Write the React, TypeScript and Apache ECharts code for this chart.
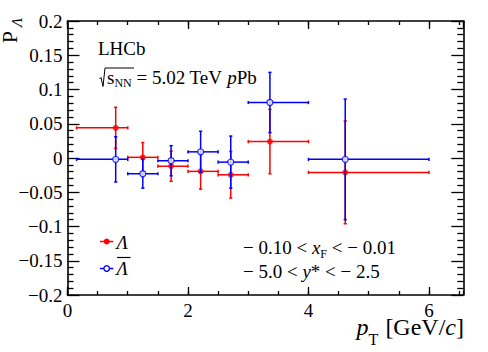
import React, { useEffect, useRef } from 'react';
import * as echarts from 'echarts';

// pT bins [GeV/c]
const binLow = [0.15, 1.0, 1.5, 2.0, 2.5, 3.0, 4.0];
const binHigh = [1.0, 1.5, 2.0, 2.5, 3.0, 4.0, 6.0];
const ptMean = [0.8, 1.25, 1.72, 2.21, 2.71, 3.36, 4.61];
// Lambda polarization
const lambdaP = [0.044, 0.001, -0.012, -0.0195, -0.0245, 0.024, -0.021];
const lambdaErr = [0.03, 0.0215, 0.022, 0.026, 0.034, 0.047, 0.075];
// anti-Lambda polarization
const antiP = [-0.002, -0.023, -0.004, 0.009, -0.006, 0.081, -0.002];
const antiErr = [0.033, 0.021, 0.022, 0.03, 0.038, 0.044, 0.088];

const xTickLabels = ['0', '2', '4', '6'];
const yTickLabels = ['\u22120.2', '\u22120.15', '\u22120.1', '\u22120.05', '0', '0.05', '0.1', '0.15', '0.2'];

const X_MIN = 0;
const X_MAX = 6.57;
const Y_MIN = -0.2;
const Y_MAX = 0.2;

const SERIF = 'Liberation Serif';
const RED = '#ff0000';
const BLUE = '#0000ff';

const makeErr = (color: string) => (params: any, api: any) => {
  const x = api.value(0);
  const y = api.value(1);
  const lo = api.value(2);
  const hi = api.value(3);
  const e = api.value(4);
  const a = api.coord([lo, y]);
  const b = api.coord([hi, y]);
  const t = api.coord([x, y + e]);
  const d = api.coord([x, y - e]);
  const c = 1.6;
  const style = { stroke: color, lineWidth: 1.5 };
  const seg = (x1: number, y1: number, x2: number, y2: number) => ({
    type: 'line',
    shape: { x1, y1, x2, y2 },
    style,
  });
  return {
    type: 'group',
    children: [
      seg(a[0], a[1], b[0], b[1]),
      seg(t[0], t[1], d[0], d[1]),
      seg(a[0], a[1] - c, a[0], a[1] + c),
      seg(b[0], b[1] - c, b[0], b[1] + c),
      seg(t[0] - c, t[1], t[0] + c, t[1]),
      seg(d[0] - c, d[1], d[0] + c, d[1]),
    ],
  };
};

// main tokens centred in a line of height L; subscript tokens pushed to its bottom
const richBase = (size: number, subSize: number, drop: number) => {
  const L = 2 * drop + subSize;
  return {
    n: { fontSize: size, fontFamily: SERIF, lineHeight: L, fill: '#000' },
    i: { fontSize: size, fontFamily: SERIF, fontStyle: 'italic', lineHeight: L, fill: '#000' },
    s: { fontSize: subSize, fontFamily: SERIF, lineHeight: subSize, verticalAlign: 'bottom', fill: '#000' },
    si: { fontSize: subSize, fontFamily: SERIF, fontStyle: 'italic', lineHeight: subSize, verticalAlign: 'bottom', fill: '#000' },
  };
};

const yLabel = (v: number) => {
  const k = Math.round((v - Y_MIN) / 0.05);
  if (Math.abs(v - (Y_MIN + k * 0.05)) < 1e-6 && k >= 0 && k < yTickLabels.length) return yTickLabels[k];
  return '';
};
const xLabel = (v: number) => {
  const k = Math.round(v);
  if (Math.abs(v - k) < 1e-6 && k % 2 === 0 && k >= 0 && k <= 6) return xTickLabels[k / 2];
  return '';
};

const axisLineStyle = { color: '#000', width: 1.6 };
const tickStyle = { color: '#000', width: 1.3 };

const txt = (x: number, y: number, text: string, size: number, opts: any = {}) => ({
  type: 'text',
  x,
  y,
  rotation: opts.rotation || 0,
  style: {
    text,
    fontSize: size,
    fontFamily: SERIF,
    fontStyle: opts.italic ? 'italic' : 'normal',
    lineHeight: opts.lineHeight || size,
    fill: '#000',
    align: opts.align || 'left',
    verticalAlign: 'middle',
  },
});

export default function App() {
  const ref = useRef<HTMLDivElement>(null);
  useEffect(() => {
    if (!ref.current) return;
    const chart = echarts.init(ref.current, null, { renderer: 'svg' });
    const xBase = { type: 'value', min: X_MIN, max: X_MAX, splitLine: { show: false } };
    const yBase = { type: 'value', min: Y_MIN, max: Y_MAX, interval: 0.05, splitLine: { show: false } };
    const option: any = {
      animation: false,
      backgroundColor: '#fff',
      grid: { left: 67.5, right: 24.7, top: 21, bottom: 57, containLabel: false, outerBoundsMode: 'none' },
      xAxis: [
        {
          ...xBase,
          position: 'bottom',
          interval: 2,
          axisLine: { show: true, onZero: false, lineStyle: axisLineStyle },
          axisTick: { show: true, inside: true, length: 8, lineStyle: tickStyle },
          axisLabel: {
            show: true,
            formatter: xLabel,
            showMaxLabel: false,
            margin: 7,
            fontSize: 19,
            lineHeight: 16,
            fontFamily: SERIF,
            color: '#000',
          },
        },
        {
          ...xBase,
          position: 'bottom',
          interval: 0.5,
          axisLine: { show: false, onZero: false },
          axisTick: { show: true, inside: true, length: 4, lineStyle: tickStyle },
          axisLabel: { show: false },
        },
        {
          ...xBase,
          position: 'top',
          interval: 2,
          axisLine: { show: true, onZero: false, lineStyle: axisLineStyle },
          axisTick: { show: true, inside: true, length: 8, lineStyle: tickStyle },
          axisLabel: { show: false },
        },
        {
          ...xBase,
          position: 'top',
          interval: 0.5,
          axisLine: { show: false, onZero: false },
          axisTick: { show: true, inside: true, length: 4, lineStyle: tickStyle },
          axisLabel: { show: false },
        },
      ],
      yAxis: [
        {
          ...yBase,
          position: 'left',
          axisLine: { show: true, onZero: false, lineStyle: axisLineStyle },
          axisTick: { show: true, inside: true, length: 12, lineStyle: tickStyle },
          minorTick: { show: true, splitNumber: 5, length: 6, lineStyle: tickStyle },
          axisLabel: {
            show: true,
            formatter: yLabel,
            margin: 5,
            fontSize: 19,
            fontFamily: SERIF,
            color: '#000',
          },
        },
        {
          ...yBase,
          position: 'right',
          axisLine: { show: true, onZero: false, lineStyle: axisLineStyle },
          axisTick: { show: true, inside: true, length: 12, lineStyle: tickStyle },
          minorTick: { show: true, splitNumber: 5, length: 6, lineStyle: tickStyle },
          axisLabel: { show: false },
        },
      ],
      series: [
        {
          type: 'custom',
          name: 'Lambda err',
          renderItem: makeErr(RED),
          data: ptMean.map((x, i) => [x, lambdaP[i], binLow[i], binHigh[i], lambdaErr[i]]),
          encode: { x: 0, y: 1 },
          z: 2,
          silent: true,
          clip: false,
        },
        {
          type: 'scatter',
          name: 'Lambda',
          data: ptMean.map((x, i) => [x, lambdaP[i]]),
          symbol: 'circle',
          symbolSize: 6,
          itemStyle: { color: RED },
          z: 3,
          silent: true,
        },
        {
          type: 'custom',
          name: 'antiLambda err',
          renderItem: makeErr(BLUE),
          data: ptMean.map((x, i) => [x, antiP[i], binLow[i], binHigh[i], antiErr[i]]),
          encode: { x: 0, y: 1 },
          z: 4,
          silent: true,
          clip: false,
        },
        {
          type: 'scatter',
          name: 'antiLambda',
          data: ptMean.map((x, i) => [x, antiP[i]]),
          symbol: 'circle',
          symbolSize: 6,
          itemStyle: { color: '#fff', borderColor: BLUE, borderWidth: 1.3 },
          z: 5,
          silent: true,
        },
      ],
      graphic: [
        // y-axis title P_Λ (rotated, reading upwards, ending at the top of the frame)
        txt(9.5, 31, 'P', 22, { rotation: Math.PI / 2, align: 'right', lineHeight: 16 }),
        txt(16.5, 18, '\u039B', 15, { rotation: Math.PI / 2, align: 'right', italic: true, lineHeight: 12 }),
        // x-axis title p_T [GeV/c]
        txt(356.5, 327, 'p', 24, { italic: true, lineHeight: 16 }),
        txt(368.5, 339, 'T', 16, { lineHeight: 12 }),
        {
          type: 'text',
          x: 464,
          y: 327,
          style: {
            text: '{n|[GeV/}{i|c}{n|]}',
            rich: {
              n: { fontSize: 24, fontFamily: SERIF, lineHeight: 16, fill: '#000' },
              i: { fontSize: 24, fontFamily: SERIF, fontStyle: 'italic', lineHeight: 16, fill: '#000' },
            },
            align: 'right',
            verticalAlign: 'middle',
          },
        },
        txt(98, 48, 'LHCb', 19),
        {
          type: 'polyline',
          shape: { points: [[99.5, 79], [101, 77.5], [103, 86.5], [105, 68], [134, 68]] },
          style: { stroke: '#000', lineWidth: 1, fill: 'none' },
        },
        {
          type: 'text',
          x: 107,
          y: 77.5,
          style: {
            text: '{n|s}{s|NN}{n| = 5.02 TeV }{i|p}{n|Pb}',
            rich: richBase(19, 12, 5.5),
            align: 'left',
            verticalAlign: 'middle',
          },
        },
        // legend
        { type: 'line', shape: { x1: 100, y1: 241.5, x2: 113.3, y2: 241.5 }, style: { stroke: RED, lineWidth: 1.5 } },
        { type: 'circle', shape: { cx: 106.7, cy: 241.5, r: 3 }, style: { fill: RED } },
        txt(116.5, 242, '\u039B', 19, { italic: true }),
        { type: 'line', shape: { x1: 100, y1: 268.5, x2: 113.3, y2: 268.5 }, style: { stroke: BLUE, lineWidth: 1.5 } },
        { type: 'circle', shape: { cx: 106.7, cy: 268.5, r: 2.8 }, style: { fill: '#fff', stroke: BLUE, lineWidth: 1.3 } },
        txt(116.5, 268, '\u039B', 19, { italic: true }),
        { type: 'line', shape: { x1: 117, y1: 257.5, x2: 130.5, y2: 257.5 }, style: { stroke: '#000', lineWidth: 1.2 } },
        // kinematic range
        {
          type: 'text',
          x: 243,
          y: 247,
          style: {
            text: '{n|\u2212 0.10 < }{i|x}{s|F}{n| < \u2212 0.01}',
            rich: richBase(19, 12, 6.5),
            align: 'left',
            verticalAlign: 'middle',
          },
        },
        {
          type: 'text',
          x: 243,
          y: 271,
          style: {
            text: '{n|\u2212 5.0 < }{i|y}{n|* < \u2212 2.5}',
            rich: richBase(19, 12, 4),
            align: 'left',
            verticalAlign: 'middle',
          },
        },
      ],
    };
    chart.setOption(option);
    return () => chart.dispose();
  }, []);
  return (
    <div
      ref={ref}
      style={{ position: 'fixed', left: 0, top: 0, width: 488, height: 352, background: '#fff' }}
    />
  );
}
